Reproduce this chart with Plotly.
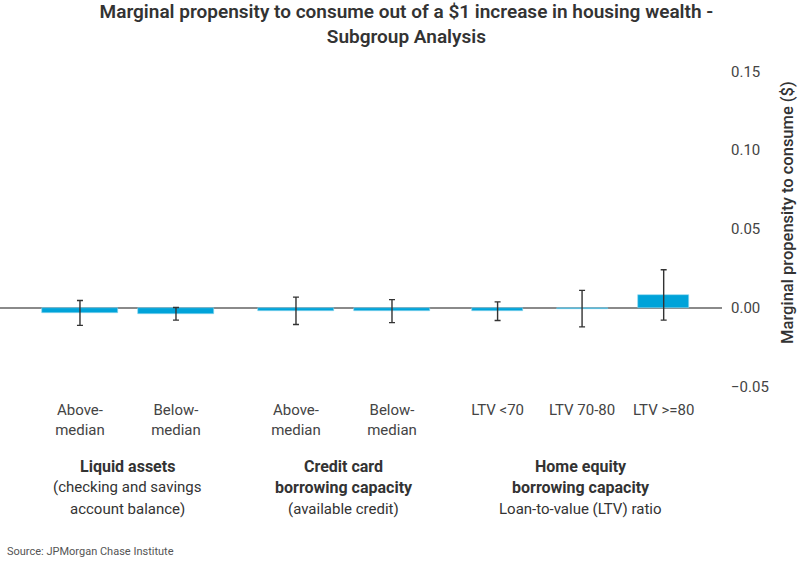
import plotly.graph_objects as go

# ---- data ----
categories = ["Above-<br>median", "Below-<br>median", "Above-<br>median", "Below-<br>median",
              "LTV <70", "LTV 70-80", "LTV >=80"]
mpc_values = [-0.0032, -0.0038, -0.0019, -0.0021, -0.0021, -0.0005, 0.0082]
ci_halfwidth = [0.0079, 0.0040, 0.0087, 0.0073, 0.0059, 0.0116, 0.0160]
group_labels = [
    ["<b>Liquid assets</b>", "(checking and savings", "account balance)"],
    ["<b>Credit card</b>", "<b>borrowing capacity</b>", "(available credit)"],
    ["<b>Home equity</b>", "<b>borrowing capacity</b>", "Loan-to-value (LTV) ratio"],
]
y_tick_vals = [-0.05, 0.0, 0.05, 0.10, 0.15]
y_tick_text = ["\u22120.05", "0.00", "0.05", "0.10", "0.15"]
y_title = "Marginal propensity to consume ($)"

# ---- layout settings (positions / sizes) ----
x_pos = [0.0, 1.0, 2.25, 3.25, 4.35, 5.23, 6.08]
bar_width = [0.8, 0.8, 0.8, 0.8, 0.53, 0.53, 0.53]
group_members = [[0, 1], [2, 3], [4, 5, 6]]
FONT = "Roboto, Liberation Sans, sans-serif"
BAR_COLOR = "#00a3d9"

fig = go.Figure()
fig.add_trace(go.Bar(
    x=x_pos, y=mpc_values, width=bar_width,
    marker=dict(color=BAR_COLOR, line=dict(color="#8fd6ef", width=0.6)),
    error_y=dict(type="data", array=ci_halfwidth, visible=True,
                 color="#333333", thickness=1.4, width=3),
    hoverinfo="y", showlegend=False,
))

annotations = []
line_y = [-0.25, -0.318, -0.386]
for members, lines in zip(group_members, group_labels):
    cx = (x_pos[members[0]] + x_pos[members[-1]]) / 2
    for ly, txt in zip(line_y, lines):
        annotations.append(dict(
            x=cx, y=ly, xref="x", yref="paper", text=txt, showarrow=False,
            xanchor="center", yanchor="middle",
            font=dict(family=FONT, size=16 if txt.startswith("<b>") else 15, color="#333333"),
        ))
annotations.append(dict(
    x=0.007, y=-0.519, xref="paper", yref="paper", xanchor="left", yanchor="middle",
    text="Source: JPMorgan Chase Institute", showarrow=False,
    font=dict(family=FONT, size=11, color="#555555"),
))
annotations.append(dict(
    x=1.0914, y=0.554, xref="paper", yref="paper", xanchor="center", yanchor="middle",
    text=y_title, textangle=-90, showarrow=False,
    font=dict(family=FONT, size=16.5, color="#333333", weight=500),
))

fig.update_layout(
    width=800, height=563,
    margin=dict(l=0, r=78, t=71, b=176),
    paper_bgcolor="white", plot_bgcolor="white",
    title=dict(
        text="Marginal propensity to consume out of a $1 increase in housing wealth -<br>Subgroup Analysis",
        x=0.508, xanchor="center", y=0.968, yanchor="top",
        font=dict(family=FONT, size=19, color="#333333", weight=600),
    ),
    xaxis=dict(
        type="linear", range=[-0.833, 6.6875],
        tickvals=x_pos, ticktext=categories,
        showgrid=False, zeroline=False, showline=False, ticks="",
        tickfont=dict(family=FONT, size=15, color="#444444"),
        ticklabelstandoff=12,
    ),
    yaxis=dict(
        side="right", range=[-0.0502, 0.1502],
        tickvals=y_tick_vals, ticktext=y_tick_text,
        showgrid=False, zeroline=True, zerolinecolor="#8a8a8a", zerolinewidth=1.5,
        showline=False, ticks="", ticklabelstandoff=8,
        tickfont=dict(family=FONT, size=15, color="#444444"),
    ),
    annotations=annotations,
    bargap=0,
)

fig.write_html("out.html", config={"displayModeBar": False},
               post_script="document.body.style.margin='0px';")
